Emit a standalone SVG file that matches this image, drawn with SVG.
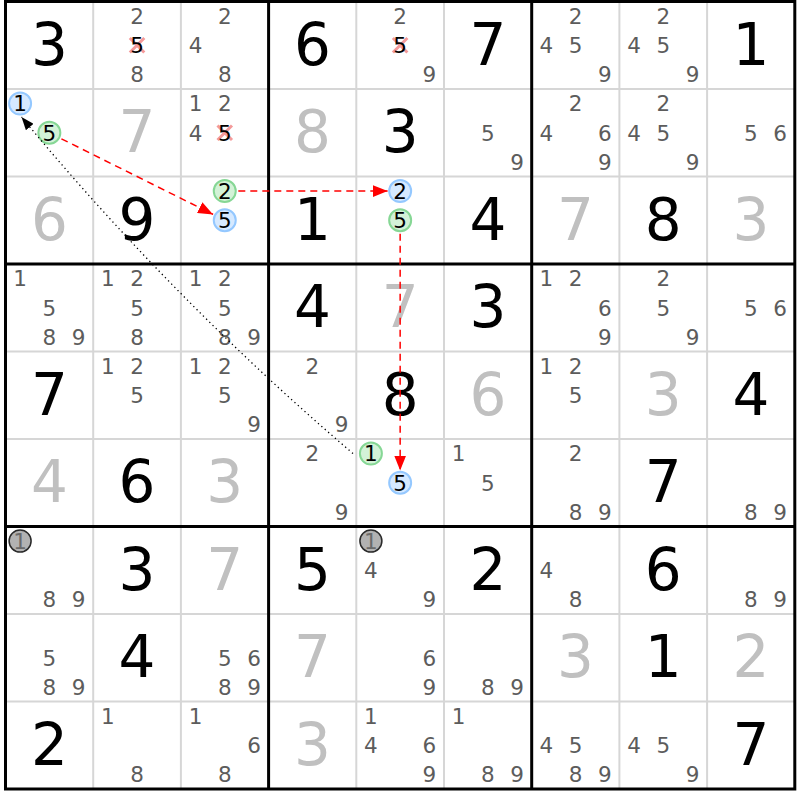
<svg xmlns="http://www.w3.org/2000/svg" width="800" height="800" viewBox="0 0 800 800">
<style>
text{font-family:"DejaVu Sans",Verdana,sans-serif;text-anchor:middle}
.g{font-size:58px;fill:#000}
.p{font-size:58px;fill:#c0c0c0}
.c{font-size:21.5px;fill:#5c5c5c}
.k{font-size:21.5px;fill:#000}
.q{font-size:21.5px;fill:#6a6a6a}
.thin{stroke:#d6d6d6;stroke-width:2}
.thick{stroke:#000;stroke-width:3}
.cb{fill:#d6e9ff;stroke:#94c8ff;stroke-width:2}
.cg{fill:#d3f2d7;stroke:#86d795;stroke-width:2}
.cy{fill:#b2b2b2;stroke:#2a2a2a;stroke-width:1.5}
.x{stroke:#f49a9a;stroke-width:3;fill:none}
.red{stroke:#ff0000;stroke-width:1.5;stroke-dasharray:7 5;fill:none}
.dot{stroke:#000;stroke-width:1.3;stroke-dasharray:1.3 3.2;fill:none}
</style>
<defs>
<marker id="ar" markerUnits="userSpaceOnUse" markerWidth="15" markerHeight="12" refX="15" refY="6" orient="auto"><path d="M0,0 L15,6 L0,12 z" fill="#ff0000"/></marker>
<marker id="ab" markerUnits="userSpaceOnUse" markerWidth="13" markerHeight="10" refX="13" refY="5" orient="auto"><path d="M0,0 L13,5 L0,10 z" fill="#000"/></marker>
</defs>
<rect x="0" y="0" width="800" height="800" fill="#fff"/>
<g id="grid">
<path class="thin" d="M93.2,1.5V789M180.9,1.5V789M356.3,1.5V789M444,1.5V789M619.4,1.5V789M707.1,1.5V789M5.5,89H794.8M5.5,176.5H794.8M5.5,351.5H794.8M5.5,439H794.8M5.5,614H794.8M5.5,701.5H794.8"/>
<path class="thick" d="M5.5,0V790.5M268.6,1.5V789M531.7,1.5V789M794.8,0V790.5M4,1.5H796.3M5.5,264H794.8M5.5,526.5H794.8M4,789H796.3"/>
</g>
<g id="r0c0"><text class="g" x="49.35" y="64.5">3</text></g>
<g id="r0c1"><text class="c" x="137.05" y="23.9">2</text><path class="x" d="M129.8,38L144.3,52.5M144.3,38L129.8,52.5"/><text class="k" x="137.05" y="53.1">5</text><text class="c" x="137.05" y="82.2">8</text></g>
<g id="r0c2"><text class="c" x="224.75" y="23.9">2</text><text class="c" x="195.5" y="53.1">4</text><text class="c" x="224.75" y="82.2">8</text></g>
<g id="r0c3"><text class="g" x="312.45" y="64.5">6</text></g>
<g id="r0c4"><text class="c" x="400.15" y="23.9">2</text><path class="x" d="M392.9,38L407.4,52.5M407.4,38L392.9,52.5"/><text class="k" x="400.15" y="53.1">5</text><text class="c" x="429.4" y="82.2">9</text></g>
<g id="r0c5"><text class="g" x="487.85" y="64.5">7</text></g>
<g id="r0c6"><text class="c" x="575.55" y="23.9">2</text><text class="c" x="546.3" y="53.1">4</text><text class="c" x="575.55" y="53.1">5</text><text class="c" x="604.8" y="82.2">9</text></g>
<g id="r0c7"><text class="c" x="663.25" y="23.9">2</text><text class="c" x="634" y="53.1">4</text><text class="c" x="663.25" y="53.1">5</text><text class="c" x="692.5" y="82.2">9</text></g>
<g id="r0c8"><text class="g" x="750.95" y="64.5">1</text></g>

<g id="r1c0"><circle class="cb" cx="20.1" cy="103.6" r="11"/><text class="k" x="20.1" y="111.4">1</text><circle class="cg" cx="49.35" cy="132.75" r="11"/><text class="k" x="49.35" y="140.6">5</text></g>
<g id="r1c1"><text class="p" x="137.05" y="152">7</text></g>
<g id="r1c2"><text class="c" x="195.5" y="111.4">1</text><text class="c" x="224.75" y="111.4">2</text><text class="c" x="195.5" y="140.6">4</text><path class="x" d="M217.5,125.5L232,140M232,125.5L217.5,140"/><text class="k" x="224.75" y="140.6">5</text></g>
<g id="r1c3"><text class="p" x="312.45" y="152">8</text></g>
<g id="r1c4"><text class="g" x="400.15" y="152">3</text></g>
<g id="r1c5"><text class="c" x="487.85" y="140.6">5</text><text class="c" x="517.1" y="169.7">9</text></g>
<g id="r1c6"><text class="c" x="575.55" y="111.4">2</text><text class="c" x="546.3" y="140.6">4</text><text class="c" x="604.8" y="140.6">6</text><text class="c" x="604.8" y="169.7">9</text></g>
<g id="r1c7"><text class="c" x="663.25" y="111.4">2</text><text class="c" x="634" y="140.6">4</text><text class="c" x="663.25" y="140.6">5</text><text class="c" x="692.5" y="169.7">9</text></g>
<g id="r1c8"><text class="c" x="750.95" y="140.6">5</text><text class="c" x="780.2" y="140.6">6</text></g>

<g id="r2c0"><text class="p" x="49.35" y="239.5">6</text></g>
<g id="r2c1"><text class="g" x="137.05" y="239.5">9</text></g>
<g id="r2c2"><circle class="cg" cx="224.75" cy="191.1" r="11"/><text class="k" x="224.75" y="198.9">2</text><circle class="cb" cx="224.75" cy="220.25" r="11"/><text class="k" x="224.75" y="228.1">5</text></g>
<g id="r2c3"><text class="g" x="312.45" y="239.5">1</text></g>
<g id="r2c4"><circle class="cb" cx="400.15" cy="191.1" r="11"/><text class="k" x="400.15" y="198.9">2</text><circle class="cg" cx="400.15" cy="220.25" r="11"/><text class="k" x="400.15" y="228.1">5</text></g>
<g id="r2c5"><text class="g" x="487.85" y="239.5">4</text></g>
<g id="r2c6"><text class="p" x="575.55" y="239.5">7</text></g>
<g id="r2c7"><text class="g" x="663.25" y="239.5">8</text></g>
<g id="r2c8"><text class="p" x="750.95" y="239.5">3</text></g>

<g id="r3c0"><text class="c" x="20.1" y="286.4">1</text><text class="c" x="49.35" y="315.6">5</text><text class="c" x="49.35" y="344.7">8</text><text class="c" x="78.6" y="344.7">9</text></g>
<g id="r3c1"><text class="c" x="107.8" y="286.4">1</text><text class="c" x="137.05" y="286.4">2</text><text class="c" x="137.05" y="315.6">5</text><text class="c" x="137.05" y="344.7">8</text></g>
<g id="r3c2"><text class="c" x="195.5" y="286.4">1</text><text class="c" x="224.75" y="286.4">2</text><text class="c" x="224.75" y="315.6">5</text><text class="c" x="224.75" y="344.7">8</text><text class="c" x="254" y="344.7">9</text></g>
<g id="r3c3"><text class="g" x="312.45" y="327">4</text></g>
<g id="r3c4"><text class="p" x="400.15" y="327">7</text></g>
<g id="r3c5"><text class="g" x="487.85" y="327">3</text></g>
<g id="r3c6"><text class="c" x="546.3" y="286.4">1</text><text class="c" x="575.55" y="286.4">2</text><text class="c" x="604.8" y="315.6">6</text><text class="c" x="604.8" y="344.7">9</text></g>
<g id="r3c7"><text class="c" x="663.25" y="286.4">2</text><text class="c" x="663.25" y="315.6">5</text><text class="c" x="692.5" y="344.7">9</text></g>
<g id="r3c8"><text class="c" x="750.95" y="315.6">5</text><text class="c" x="780.2" y="315.6">6</text></g>

<g id="r4c0"><text class="g" x="49.35" y="414.5">7</text></g>
<g id="r4c1"><text class="c" x="107.8" y="373.9">1</text><text class="c" x="137.05" y="373.9">2</text><text class="c" x="137.05" y="403.1">5</text></g>
<g id="r4c2"><text class="c" x="195.5" y="373.9">1</text><text class="c" x="224.75" y="373.9">2</text><text class="c" x="224.75" y="403.1">5</text><text class="c" x="254" y="432.2">9</text></g>
<g id="r4c3"><text class="c" x="312.45" y="373.9">2</text><text class="c" x="341.7" y="432.2">9</text></g>
<g id="r4c4"><text class="g" x="400.15" y="414.5">8</text></g>
<g id="r4c5"><text class="p" x="487.85" y="414.5">6</text></g>
<g id="r4c6"><text class="c" x="546.3" y="373.9">1</text><text class="c" x="575.55" y="373.9">2</text><text class="c" x="575.55" y="403.1">5</text></g>
<g id="r4c7"><text class="p" x="663.25" y="414.5">3</text></g>
<g id="r4c8"><text class="g" x="750.95" y="414.5">4</text></g>

<g id="r5c0"><text class="p" x="49.35" y="502">4</text></g>
<g id="r5c1"><text class="g" x="137.05" y="502">6</text></g>
<g id="r5c2"><text class="p" x="224.75" y="502">3</text></g>
<g id="r5c3"><text class="c" x="312.45" y="461.4">2</text><text class="c" x="341.7" y="519.7">9</text></g>
<g id="r5c4"><circle class="cg" cx="370.9" cy="453.6" r="11"/><text class="k" x="370.9" y="461.4">1</text><circle class="cb" cx="400.15" cy="482.75" r="11"/><text class="k" x="400.15" y="490.6">5</text></g>
<g id="r5c5"><text class="c" x="458.6" y="461.4">1</text><text class="c" x="487.85" y="490.6">5</text></g>
<g id="r5c6"><text class="c" x="575.55" y="461.4">2</text><text class="c" x="575.55" y="519.7">8</text><text class="c" x="604.8" y="519.7">9</text></g>
<g id="r5c7"><text class="g" x="663.25" y="502">7</text></g>
<g id="r5c8"><text class="c" x="750.95" y="519.7">8</text><text class="c" x="780.2" y="519.7">9</text></g>

<g id="r6c0"><circle class="cy" cx="20.1" cy="541.1" r="11"/><text class="q" x="20.1" y="548.9">1</text><text class="c" x="49.35" y="607.2">8</text><text class="c" x="78.6" y="607.2">9</text></g>
<g id="r6c1"><text class="g" x="137.05" y="589.5">3</text></g>
<g id="r6c2"><text class="p" x="224.75" y="589.5">7</text></g>
<g id="r6c3"><text class="g" x="312.45" y="589.5">5</text></g>
<g id="r6c4"><circle class="cy" cx="370.9" cy="541.1" r="11"/><text class="q" x="370.9" y="548.9">1</text><text class="c" x="370.9" y="578.1">4</text><text class="c" x="429.4" y="607.2">9</text></g>
<g id="r6c5"><text class="g" x="487.85" y="589.5">2</text></g>
<g id="r6c6"><text class="c" x="546.3" y="578.1">4</text><text class="c" x="575.55" y="607.2">8</text></g>
<g id="r6c7"><text class="g" x="663.25" y="589.5">6</text></g>
<g id="r6c8"><text class="c" x="750.95" y="607.2">8</text><text class="c" x="780.2" y="607.2">9</text></g>

<g id="r7c0"><text class="c" x="49.35" y="665.6">5</text><text class="c" x="49.35" y="694.7">8</text><text class="c" x="78.6" y="694.7">9</text></g>
<g id="r7c1"><text class="g" x="137.05" y="677">4</text></g>
<g id="r7c2"><text class="c" x="224.75" y="665.6">5</text><text class="c" x="254" y="665.6">6</text><text class="c" x="224.75" y="694.7">8</text><text class="c" x="254" y="694.7">9</text></g>
<g id="r7c3"><text class="p" x="312.45" y="677">7</text></g>
<g id="r7c4"><text class="c" x="429.4" y="665.6">6</text><text class="c" x="429.4" y="694.7">9</text></g>
<g id="r7c5"><text class="c" x="487.85" y="694.7">8</text><text class="c" x="517.1" y="694.7">9</text></g>
<g id="r7c6"><text class="p" x="575.55" y="677">3</text></g>
<g id="r7c7"><text class="g" x="663.25" y="677">1</text></g>
<g id="r7c8"><text class="p" x="750.95" y="677">2</text></g>

<g id="r8c0"><text class="g" x="49.35" y="764.5">2</text></g>
<g id="r8c1"><text class="c" x="107.8" y="723.9">1</text><text class="c" x="137.05" y="782.2">8</text></g>
<g id="r8c2"><text class="c" x="195.5" y="723.9">1</text><text class="c" x="254" y="753.1">6</text><text class="c" x="224.75" y="782.2">8</text></g>
<g id="r8c3"><text class="p" x="312.45" y="764.5">3</text></g>
<g id="r8c4"><text class="c" x="370.9" y="723.9">1</text><text class="c" x="370.9" y="753.1">4</text><text class="c" x="429.4" y="753.1">6</text><text class="c" x="429.4" y="782.2">9</text></g>
<g id="r8c5"><text class="c" x="458.6" y="723.9">1</text><text class="c" x="487.85" y="782.2">8</text><text class="c" x="517.1" y="782.2">9</text></g>
<g id="r8c6"><text class="c" x="546.3" y="753.1">4</text><text class="c" x="575.55" y="753.1">5</text><text class="c" x="575.55" y="782.2">8</text><text class="c" x="604.8" y="782.2">9</text></g>
<g id="r8c7"><text class="c" x="634" y="753.1">4</text><text class="c" x="663.25" y="753.1">5</text><text class="c" x="692.5" y="782.2">9</text></g>
<g id="r8c8"><text class="g" x="750.95" y="764.5">7</text></g>

<g id="connectors">
<path class="red" d="M61.4,138.8L213.1,214.4" marker-end="url(#ar)"/>
<path class="red" d="M238.3,191.1L387.6,191.1" marker-end="url(#ar)"/>
<path class="red" d="M400.15,233.8L400.15,470.5" marker-end="url(#ar)"/>
<path class="dot" d="M353,453.5Q172.5,299.7 21.5,117" marker-end="url(#ab)"/>
</g>
</svg>
